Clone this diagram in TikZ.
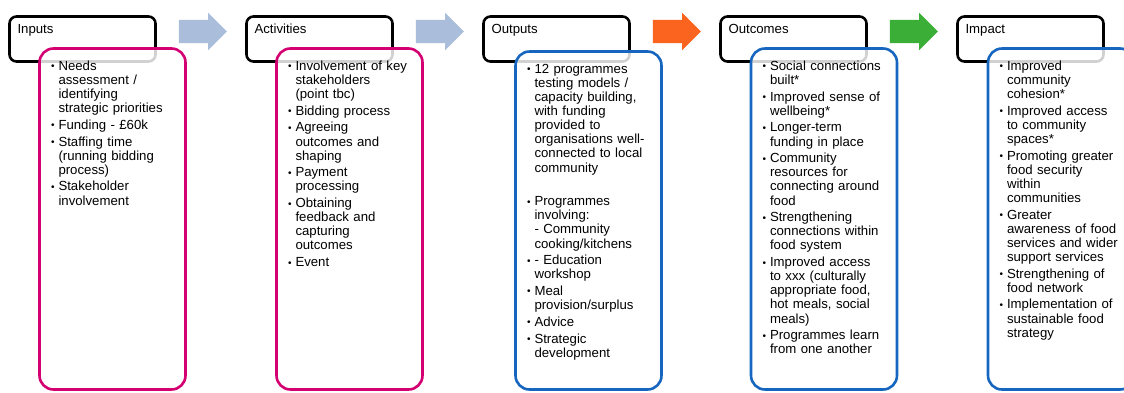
\documentclass[tikz,border=0pt]{standalone}
\usepackage{fontspec}
\setmainfont{Liberation Sans}
\usepackage{tikz}
\usetikzlibrary{positioning, shapes.arrows}

\definecolor{boxpink}{RGB}{212,0,114}
\definecolor{boxblue}{RGB}{22,102,192}
\definecolor{arrowgrey}{RGB}{170,189,218}
\definecolor{arroworange}{RGB}{250,100,30}
\definecolor{arrowgreen}{RGB}{58,174,54}

\newcommand{\br}{\newline}
\newcommand{\bpoint}[1]{\noindent\hangindent=7.5pt\hangafter=1\makebox[7.5pt][l]{\raisebox{0.6pt}{\fontsize{10}{10}\selectfont\textbullet}}#1\par}

\begin{document}
\begin{tikzpicture}[x=1pt, y=1pt, node distance=237pt, on grid,
	head/.style={draw=black, line width=2.6pt, rounded corners=7pt, align=left,
		font=\fontsize{13.2}{14.1}\selectfont, inner xsep=8pt, inner ysep=0pt,
		text width=130pt, text height=16.5pt, text depth=28.5pt},
	body/.style={line width=2.6pt, rounded corners=14pt, fill=white, fill opacity=0.82,
		text opacity=1, align=left, font=\fontsize{13.2}{14.1}\selectfont,
		inner xsep=11.5pt, inner ysep=0pt, text width=123pt,
		text height=21.8pt, text depth=319.2pt,
		execute at begin node={\setlength{\parskip}{2.6pt}}},
	pinkbody/.style={body, draw=boxpink},
	bluebody/.style={body, draw=boxblue},
	flow/.style={single arrow, draw=none, inner xsep=0pt, inner ysep=11.5pt,
		minimum height=48pt, minimum width=37pt, single arrow head extend=7pt,
		single arrow tip angle=90}]
	\useasboundingbox (0,0) rectangle (1124,-392);

	\node[head] (inHead) at (82.5,-39) {Inputs};
	\node[head, right=of inHead] (actHead) {Activities};
	\node[head, right=of actHead] (outHead) {Outputs};
	\node[head, right=of outHead] (ocmHead) {Outcomes};
	\node[head, right=of ocmHead] (impHead) {Impact};

	\node[pinkbody, below right=180pt and 30pt of inHead] (inBody) {%
		\bpoint{Needs\br assessment /\br identifying\br strategic priorities}
		\bpoint{Funding - £60k}
		\bpoint{Staffing time\br (running bidding\br process)}
		\bpoint{Stakeholder\br involvement}};
	\node[pinkbody, below right=180pt and 30pt of actHead] (actBody) {%
		\bpoint{Involvement of key\br stakeholders\br (point tbc)}
		\bpoint{Bidding process}
		\bpoint{Agreeing\br outcomes and\br shaping}
		\bpoint{Payment\br processing}
		\bpoint{Obtaining\br feedback and\br capturing\br outcomes}
		\bpoint{Event}};
	\node[bluebody, below right=181.5pt and 32pt of outHead, text depth=316.2pt] (outBody) {%
		\bpoint{12 programmes\br testing models /\br capacity building,\br with funding\br provided to\br organisations well-\br connected to local\br community}
		\vspace{17pt}
		\bpoint{Programmes\br involving:\br - Community\br cooking/kitchens}
		\bpoint{- Education\br workshop}
		\bpoint{Meal\br provision/surplus}
		\bpoint{Advice}
		\bpoint{Strategic\br development}};
	\node[bluebody, below right=180pt and 30.5pt of ocmHead] (ocmBody) {%
		\bpoint{Social connections\br built*}
		\bpoint{Improved sense of\br wellbeing*}
		\bpoint{Longer-term\br funding in place}
		\bpoint{Community\br resources for\br connecting around\br food}
		\bpoint{Strengthening\br connections within\br food system}
		\bpoint{Improved access\br to xxx (culturally\br appropriate food,\br hot meals, social\br meals)}
		\bpoint{Programmes learn\br from one another}};
	\node[bluebody, below right=180pt and 30.5pt of impHead] (impBody) {%
		\bpoint{Improved\br community\br cohesion*}
		\bpoint{Improved access\br to community\br spaces*}
		\bpoint{Promoting greater\br food security\br within\br communities}
		\bpoint{Greater\br awareness of food\br services and wider\br support services}
		\bpoint{Strengthening of\br food network}
		\bpoint{Implementation of\br sustainable food\br strategy}};

	% Arrows between stages
	\node[flow, fill=arrowgrey, above right=7.5pt and 114.5pt of inHead] (arrA) {};
	\node[flow, fill=arrowgrey, above right=7.5pt and 114.5pt of actHead] (arrB) {};
	\node[flow, fill=arroworange, above right=7.5pt and 114.5pt of outHead] (arrC) {};
	\node[flow, fill=arrowgreen, above right=7.5pt and 114.5pt of ocmHead] (arrD) {};
\end{tikzpicture}
\end{document}
